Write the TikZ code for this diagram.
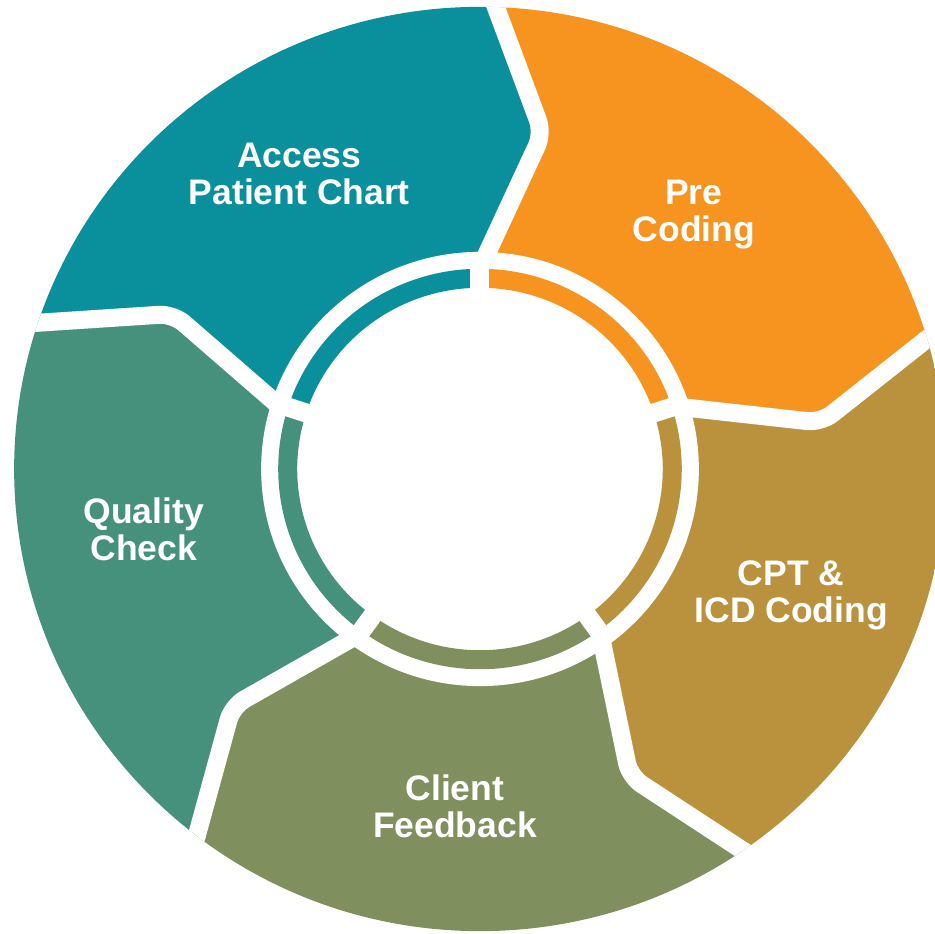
\documentclass[tikz,border=0pt]{standalone}
\usepackage{fontspec}
\setmainfont{Liberation Sans}
\usetikzlibrary{calc}
\definecolor{cteal}{HTML}{0A8F9C}
\definecolor{corange}{HTML}{F7941F}
\definecolor{cgold}{HTML}{BA923E}
\definecolor{colive}{HTML}{7F8F5E}
\definecolor{csea}{HTML}{46917C}
\begin{document}
\begin{tikzpicture}[x=1.004pt,y=0.996pt,
  gapline/.style={draw=white,line width=18pt,rounded corners=14pt,line join=round},
  ringarc/.style={line width=19pt},
  lbl/.style={text=white,align=center,inner sep=0pt,font=\bfseries\fontsize{35.5}{37}\selectfont}]
\useasboundingbox (-480pt,-465pt) rectangle (455pt,469pt);
% boundary points: inner end, vertex, outer end
\foreach \a/\n in {161.5/e, 88/a, 16.3/b, -55.7/c, -127.5/d} {
  \pgfmathsetmacro\av{\a-8.5}
  \coordinate (V\n) at (\av:343);
  \coordinate (I\n) at ($(V\n)!1.6!(\a:218)$);
  \coordinate (O\n) at ($(V\n)!1.4!(\a:463)$);
}
\begin{scope}
  \clip (0,0) circle[radius=464];
  \foreach \a/\b/\n/\m/\c in {161.5/88/e/a/cteal, 88/16.3/a/b/corange, 16.3/-55.7/b/c/cgold, -55.7/-127.5/c/d/colive, -127.5/-198.5/d/e/csea} {
    \fill[\c] (0,0) -- (I\n) -- (V\n) -- (O\n) -- (\a:600)
      arc[start angle=\a, end angle=\b, radius=600]
      -- (O\m) -- (V\m) -- (I\m) -- cycle;
  }
  \foreach \n in {a,b,c,d,e} {
    \draw[gapline] (I\n) -- (V\n) -- (O\n);
  }
\end{scope}
\fill[white] (0,0) circle[radius=218];
\foreach \g/\c in {162/cteal, 90/corange, 18/cgold, -54/colive, -126/csea} {
  \pgfmathsetmacro\h{\g-72}
  \draw[ringarc,\c] (\g:191.5) arc[start angle=\g, end angle=\h, radius=191.5];
}
\foreach \g in {162, 90, 18, -54, -126} {
  \draw[white,line width=19pt] (\g:170) -- (\g:212);
}
\node[lbl] (access) at (-180,296) {Access\\Patient Chart};
\node[lbl] (pre) at (213,255) {Pre\\Coding};
\node[lbl] (cpt) at (310,-127) {CPT \&\\ICD Coding};
\node[lbl] (client) at (-25,-339) {Client\\Feedback};
\node[lbl] (quality) at (-335,-61) {Quality\\Check};
\end{tikzpicture}
\end{document}
